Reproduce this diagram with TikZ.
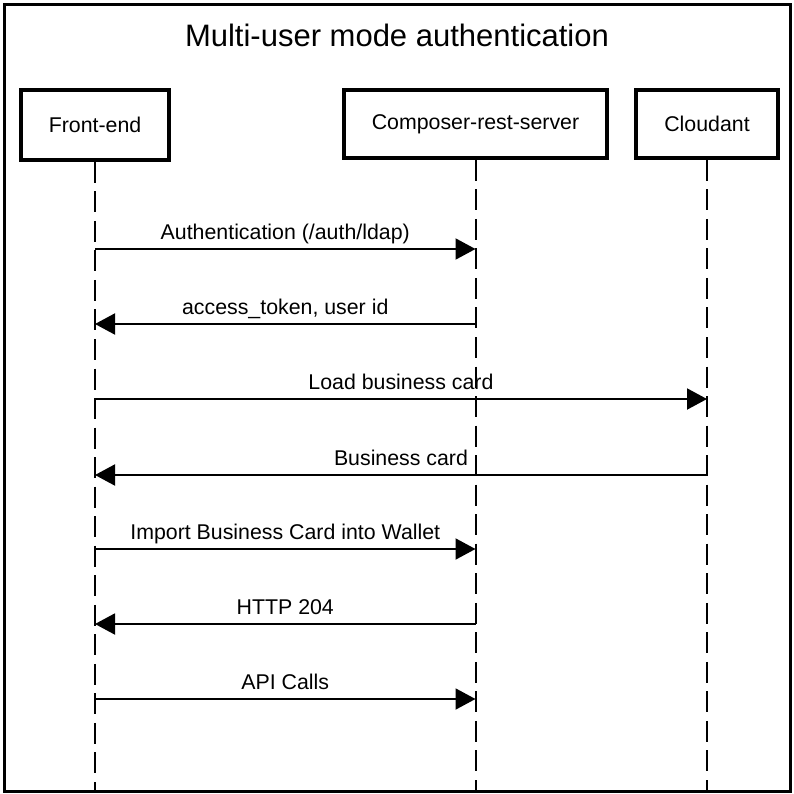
\documentclass[tikz,border=0pt]{standalone}
\usepackage{fontspec}
\setmainfont{Liberation Sans}
\usetikzlibrary{arrows.meta,positioning,calc}
\definecolor{trazo}{HTML}{000000}
\tikzset{
  caja/.style={draw=trazo,line width=2.7pt,fill=white,inner sep=0pt,font=\fontsize{16}{19}\selectfont},
  vida/.style={draw=trazo,line width=1.5pt,dash pattern=on 15.75pt off 6.4pt},
  mensaje/.style={draw=trazo,line width=1.5pt,-{Triangle[length=15pt,width=15.75pt]}},
  rotulo/.style={font=\fontsize{16}{19}\selectfont,anchor=base,yshift=7.5pt,inner sep=0pt}
}

\begin{document}
\begin{tikzpicture}[x=0.75pt,y=-0.75pt]
  \useasboundingbox (0,0) rectangle (794,794);
  % marco y titulo
  \draw[trazo,line width=2.25pt] (4,4) rectangle (790.5,791.5);
  \node[font=\fontsize{23.25}{28}\selectfont,anchor=base,inner sep=0pt] (titulo) at (397,46) {Multi-user mode authentication};
  % participantes
  \node[caja,minimum width=148*0.75pt,minimum height=70*0.75pt] (front) at (95,125) {Front-end};
  \node[caja,minimum width=263*0.75pt,minimum height=68*0.75pt] (rest) at (475.5,124) {Composer-rest-server};
  \node[caja,minimum width=142*0.75pt,minimum height=68*0.75pt] (nube) at (707,124) {Cloudant};
  % lineas de vida
  \foreach \n in {front,rest,nube}
    \draw[vida] (\n.south) -- (\n.south |- 0,792);
  % mensajes
  \foreach \y/\a/\b/\t in {249/front/rest/{Authentication (/auth/ldap)},
                           324/rest/front/{access\_token, user id},
                           399/front/nube/{Load business card},
                           475/nube/front/{Business card},
                           549/front/rest/{Import Business Card into Wallet},
                           624/rest/front/{HTTP 204},
                           699/front/rest/{API Calls}}
    \draw[mensaje] (\a |- 0,\y) -- (\b |- 0,\y) node[rotulo,midway] {\t};
\end{tikzpicture}
\end{document}
